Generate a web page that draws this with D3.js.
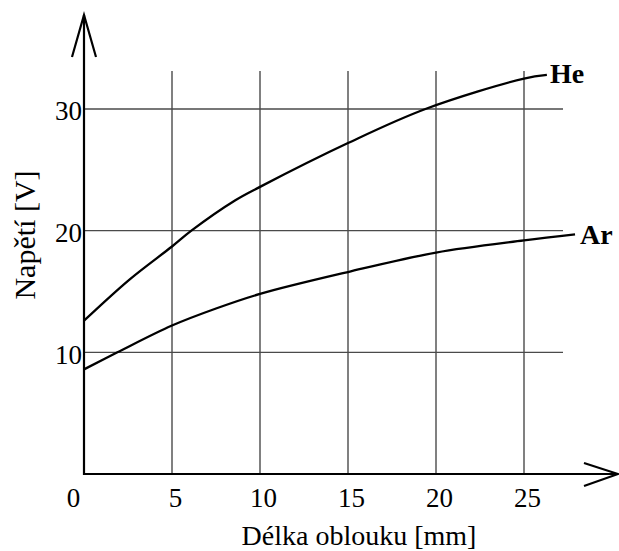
<!DOCTYPE html>
<html>
<head>
<meta charset="utf-8">
<script src="https://cdn.jsdelivr.net/npm/d3@7"></script>
<style>
  html, body { margin: 0; padding: 0; background: #fff; }
  svg { display: block; }
  text { font-family: "Liberation Serif", "Times New Roman", serif; fill: #000; }
</style>
</head>
<body>
<svg id="chart" width="619" height="551"></svg>
<script>
// ---- data ----
const xTicks = [0, 5, 10, 15, 20, 25];
const yTicks = [10, 20, 30];
const xTitle = "Délka oblouku [mm]";
const yTitle = "Napětí [V]";
const seriesNames = ["He", "Ar"];
const heLength = [0, 2.6, 5, 6.1, 8.6, 10, 15, 19.4, 25, 26.3];
const heVoltage = [12.6, 16.0, 18.7, 20, 22.5, 23.6, 27.2, 30, 32.5, 32.8];
const arLength = [0, 1.9, 5, 7.5, 10, 15, 20, 25, 27.9];
const arVoltage = [8.6, 10, 12.2, 13.6, 14.8, 16.6, 18.2, 19.2, 19.7];

// ---- layout ----
const svg = d3.select("#chart");
const x = d3.scaleLinear().domain([0, 25]).range([84, 524]);
const y = d3.scaleLinear().domain([0, 30]).range([474, 109]);
const gridTop = 71, gridRight = 563;

// grid
svg.append("g").selectAll("line").data(xTicks.filter(d => d > 0)).join("line")
  .attr("x1", d => x(d)).attr("x2", d => x(d))
  .attr("y1", y(0)).attr("y2", gridTop)
  .attr("stroke", "#4a4a4a").attr("stroke-width", 1.4);
svg.append("g").selectAll("line").data(yTicks).join("line")
  .attr("x1", x(0)).attr("x2", gridRight)
  .attr("y1", d => y(d)).attr("y2", d => y(d))
  .attr("stroke", "#4a4a4a").attr("stroke-width", 1.4);

// axes labels via d3 axes
const xAxis = svg.append("g").attr("transform", `translate(0,${y(0)})`)
  .call(d3.axisBottom(x).tickValues(xTicks).tickSize(0).tickPadding(14).tickFormat(d3.format("d")));
xAxis.select(".domain").remove();
xAxis.selectAll("text").attr("font-size", 27).attr("font-family", "Liberation Serif")
  .attr("fill", "#000").attr("dx", d => d === 0 ? -11 : 3);

const yAxis = svg.append("g").attr("transform", `translate(${x(0)},0)`)
  .call(d3.axisLeft(y).tickValues(yTicks).tickSize(0).tickPadding(2).tickFormat(d3.format("d")));
yAxis.select(".domain").remove();
yAxis.selectAll("text").attr("font-size", 27).attr("font-family", "Liberation Serif")
  .attr("fill", "#000").attr("dy", "0.4em");

// axis lines with arrows
const ax = svg.append("g").attr("stroke", "#000").attr("stroke-width", 2.2).attr("fill", "none");
ax.append("line").attr("x1", x(0)).attr("x2", x(0)).attr("y1", y(0) + 1).attr("y2", 15);
ax.append("polyline").attr("points", `${x(0) - 12},57 ${x(0)},15 ${x(0) + 12},57`);
ax.append("line").attr("x1", x(0) - 1).attr("x2", 618).attr("y1", y(0)).attr("y2", y(0));
ax.append("polyline").attr("points", `584,463 618,474 584,486`);

// curves
const line = d3.line().x(d => x(d[0])).y(d => y(d[1])).curve(d3.curveCatmullRom.alpha(0.5));
const he = heLength.map((v, i) => [v, heVoltage[i]]);
const ar = arLength.map((v, i) => [v, arVoltage[i]]);
[he, ar].forEach(s => {
  svg.append("path").datum(s).attr("d", line)
    .attr("fill", "none").attr("stroke", "#000").attr("stroke-width", 2.3);
});

// series labels
svg.append("text").attr("x", x(he[he.length - 1][0]) + 3).attr("y", y(he[he.length - 1][1]) + 8)
  .attr("font-size", 28).attr("font-weight", "bold").text(seriesNames[0]);
svg.append("text").attr("x", x(ar[ar.length - 1][0]) + 5).attr("y", y(ar[ar.length - 1][1]) + 10)
  .attr("font-size", 28).attr("font-weight", "bold").text(seriesNames[1]);

// titles
svg.append("text").attr("x", 359).attr("y", 545).attr("text-anchor", "middle")
  .attr("font-size", 28).text(xTitle);
svg.append("text").attr("transform", "translate(35,235) rotate(-90)").attr("text-anchor", "middle")
  .attr("font-size", 30).text(yTitle);
</script>
</body>
</html>
